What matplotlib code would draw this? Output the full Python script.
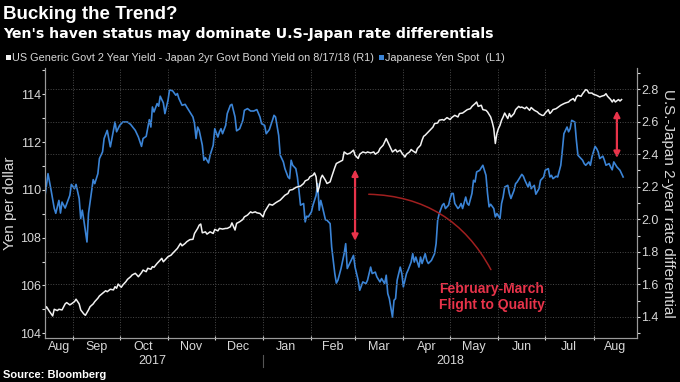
import numpy as np
import matplotlib
matplotlib.use("Agg")
import matplotlib.pyplot as plt
import matplotlib.dates as mdates
from matplotlib import font_manager
from matplotlib.ticker import MultipleLocator, FixedLocator, NullFormatter

# --- data, days counted from 2017-08-14 ---
start = np.datetime64("2017-08-14")

yen_days = [0, 2, 4, 6, 7, 9, 10, 11, 13, 16, 17, 19, 20, 22, 23, 24, 25, 27, 28, 30,
            31, 32, 34, 35, 37, 38, 40, 41, 42, 44, 45, 46, 48, 50, 53, 55, 58, 60, 62, 63,
            65, 67, 68, 69, 70, 72, 73, 74, 76, 77, 79, 80, 82, 84, 85, 86, 88, 90, 91, 93,
            95, 96, 97, 98, 99, 101, 102, 103, 105, 106, 108, 109, 111, 112, 113, 114, 116, 117, 119, 120,
            122, 123, 125, 127, 128, 130, 132, 134, 136, 138, 139, 141, 142, 144, 146, 147, 148, 150, 151, 153,
            154, 156, 157, 158, 159, 161, 162, 163, 164, 166, 167, 168, 169, 171, 172, 174, 175, 176, 177, 178,
            180, 181, 183, 184, 186, 187, 188, 190, 192, 193, 194, 196, 198, 199, 201, 202, 204, 206, 207, 209,
            210, 212, 213, 215, 216, 218, 219, 220, 221, 223, 224, 225, 226, 228, 229, 230, 232, 233, 235, 236,
            237, 238, 240, 241, 242, 244, 245, 246, 248, 250, 251, 252, 253, 255, 256, 257, 259, 260, 261, 262,
            263, 265, 266, 267, 268, 270, 271, 272, 274, 275, 276, 277, 279, 280, 281, 283, 284, 285, 286, 288,
            289, 290, 292, 293, 294, 295, 297, 298, 299, 301, 302, 303, 305, 306, 307, 308, 310, 311, 312, 314,
            315, 317, 318, 320, 321, 323, 324, 325, 326, 328, 329, 331, 332, 333, 335, 336, 337, 338, 340, 341,
            342, 344, 345, 346, 347, 349, 350, 351, 353, 354, 355, 356, 358, 359, 360, 362, 363, 364, 365, 367,
            368, 369, 371]
yen = [109.70, 110.68, 109.98, 109.23, 109.02, 109.56, 109.03, 109.49, 109.24, 109.77,
       110.23, 110.05, 110.23, 109.64, 108.80, 109.15, 108.73, 107.82, 109.02, 109.98,
       110.43, 110.26, 110.68, 111.31, 111.59, 112.15, 112.49, 112.15, 111.80, 112.49,
       112.84, 112.43, 112.70, 112.84, 112.84, 112.74, 112.49, 112.21, 111.82, 112.15,
       112.24, 112.94, 112.63, 113.47, 113.26, 113.61, 113.50, 113.92, 113.64, 113.19,
       113.75, 114.19, 114.14, 113.96, 114.03, 113.82, 113.54, 113.58, 113.47, 113.26,
       113.05, 112.77, 112.15, 112.63, 112.49, 111.87, 111.24, 111.35, 111.13, 111.45,
       111.87, 112.56, 112.21, 112.43, 112.56, 112.35, 112.70, 113.19, 113.54, 113.58,
       113.05, 112.47, 112.56, 112.91, 113.33, 113.40, 113.30, 113.30, 113.36, 113.05,
       112.77, 112.70, 112.35, 112.52, 112.91, 113.12, 113.05, 112.28, 111.45, 111.17,
       110.89, 110.54, 110.47, 111.24, 111.03, 110.89, 110.54, 109.98, 109.36, 109.43,
       108.66, 108.90, 108.87, 109.08, 109.36, 109.77, 110.26, 109.15, 109.56, 109.31,
       108.75, 108.73, 108.59, 107.61, 106.50, 106.10, 106.22, 106.71, 107.33, 107.75,
       106.71, 106.98, 107.26, 106.77, 106.22, 105.80, 106.15, 106.08, 106.22, 106.77,
       106.50, 106.56, 106.36, 106.15, 106.29, 106.08, 106.43, 105.66, 105.45, 104.68,
       105.38, 105.45, 106.22, 106.77, 106.50, 105.94, 106.50, 106.64, 106.98, 107.33,
       106.98, 107.19, 106.77, 107.19, 106.92, 107.33, 107.05, 106.92, 107.05, 107.33,
       107.75, 108.73, 109.01, 109.36, 109.43, 109.22, 109.36, 109.64, 109.85, 109.85,
       109.43, 109.22, 109.29, 109.43, 109.22, 109.70, 109.43, 109.36, 109.85, 110.40,
       110.33, 110.75, 110.82, 110.93, 111.03, 110.61, 109.85, 109.29, 109.40, 109.22,
       108.87, 109.01, 108.80, 109.43, 109.70, 110.12, 110.19, 109.85, 109.64, 109.98,
       110.26, 110.33, 110.54, 110.65, 110.57, 110.40, 110.12, 110.33, 110.05, 110.19,
       109.82, 110.05, 110.40, 110.54, 110.82, 110.89, 110.54, 110.61, 110.47, 110.57,
       110.54, 111.03, 111.66, 112.35, 112.63, 112.43, 112.56, 112.91, 112.84, 112.08,
       111.45, 111.31, 111.24, 111.10, 111.03, 111.17, 111.03, 111.38, 111.82, 111.73,
       111.59, 111.31, 111.41, 111.24, 111.03, 111.10, 110.96, 110.84, 111.17, 110.96,
       110.89, 110.82, 110.54]

spread_days = [0, 1, 3, 5, 6, 8, 9, 11, 13, 14, 16, 17, 19, 20, 22, 23, 25, 26, 28, 29,
               31, 32, 34, 35, 37, 39, 40, 42, 44, 45, 46, 47, 49, 50, 52, 53, 55, 56, 58, 59,
               60, 62, 63, 65, 66, 68, 69, 70, 72, 73, 75, 76, 78, 79, 81, 82, 84, 85, 87, 88,
               90, 91, 93, 95, 96, 98, 99, 100, 101, 103, 104, 106, 108, 109, 111, 112, 114, 116, 117, 119,
               120, 122, 123, 125, 127, 128, 130, 132, 133, 135, 136, 138, 140, 141, 143, 144, 146, 148, 149, 151,
               153, 154, 156, 157, 159, 161, 162, 164, 166, 167, 169, 170, 172, 173, 174, 175, 176, 177, 178, 180,
               181, 183, 184, 186, 187, 189, 191, 192, 194, 196, 198, 199, 201, 202, 204, 206, 207, 209, 211, 212,
               214, 215, 217, 219, 221, 222, 223, 225, 226, 228, 229, 231, 232, 234, 235, 236, 238, 239, 241, 242,
               243, 244, 246, 247, 249, 250, 252, 253, 255, 256, 258, 260, 261, 263, 265, 266, 268, 269, 271, 273,
               274, 276, 277, 278, 280, 281, 283, 284, 286, 287, 288, 289, 290, 291, 292, 293, 294, 295, 297, 298,
               299, 301, 302, 304, 305, 306, 308, 309, 311, 312, 314, 316, 317, 319, 320, 321, 323, 324, 325, 326,
               328, 329, 331, 333, 334, 336, 337, 339, 340, 341, 342, 344, 345, 347, 348, 349, 351, 352, 354, 356,
               357, 359, 360, 361, 363, 364, 365, 366, 368, 369, 370]
spread = [1.443, 1.463, 1.433, 1.406, 1.447, 1.439, 1.447, 1.443, 1.480, 1.488,
          1.474, 1.480, 1.494, 1.509, 1.480, 1.443, 1.418, 1.410, 1.443, 1.463,
          1.480, 1.494, 1.515, 1.529, 1.545, 1.561, 1.555, 1.570, 1.566, 1.586,
          1.576, 1.602, 1.582, 1.596, 1.617, 1.631, 1.647, 1.658, 1.668, 1.658,
          1.647, 1.672, 1.688, 1.678, 1.699, 1.693, 1.709, 1.705, 1.729, 1.739,
          1.760, 1.739, 1.760, 1.770, 1.780, 1.791, 1.811, 1.821, 1.852, 1.837,
          1.852, 1.862, 1.875, 1.877, 1.913, 1.944, 1.964, 1.971, 1.917, 1.923,
          1.909, 1.923, 1.913, 1.938, 1.929, 1.944, 1.940, 1.944, 1.944, 1.954,
          1.978, 1.934, 1.975, 1.985, 1.999, 2.015, 2.026, 2.046, 2.040, 2.046,
          2.040, 2.036, 2.015, 2.046, 2.077, 2.093, 2.087, 2.101, 2.107, 2.118,
          2.138, 2.148, 2.159, 2.179, 2.183, 2.196, 2.199, 2.204, 2.220, 2.236,
          2.245, 2.261, 2.271, 2.285, 2.261, 2.169, 2.199, 2.251, 2.271, 2.240,
          2.220, 2.230, 2.261, 2.318, 2.343, 2.353, 2.363, 2.414, 2.400, 2.408,
          2.425, 2.394, 2.374, 2.400, 2.414, 2.408, 2.414, 2.408, 2.414, 2.400,
          2.414, 2.435, 2.455, 2.496, 2.455, 2.435, 2.414, 2.429, 2.414, 2.425,
          2.408, 2.383, 2.400, 2.414, 2.429, 2.421, 2.408, 2.435, 2.455, 2.486,
          2.510, 2.517, 2.537, 2.547, 2.567, 2.588, 2.592, 2.609, 2.613, 2.609,
          2.625, 2.613, 2.625, 2.639, 2.629, 2.650, 2.653, 2.660, 2.674, 2.680,
          2.694, 2.711, 2.721, 2.694, 2.701, 2.674, 2.670, 2.660, 2.629, 2.598,
          2.558, 2.466, 2.527, 2.558, 2.578, 2.609, 2.629, 2.653, 2.619, 2.650,
          2.629, 2.650, 2.674, 2.694, 2.687, 2.690, 2.680, 2.690, 2.670, 2.687,
          2.670, 2.660, 2.650, 2.639, 2.639, 2.653, 2.674, 2.650, 2.660, 2.674,
          2.680, 2.687, 2.701, 2.711, 2.715, 2.721, 2.731, 2.742, 2.727, 2.752,
          2.762, 2.756, 2.772, 2.797, 2.793, 2.776, 2.776, 2.768, 2.762, 2.752,
          2.756, 2.762, 2.772, 2.756, 2.736, 2.721, 2.736, 2.721, 2.736, 2.727,
          2.736]

title = "Bucking the Trend?"
subtitle = "Yen's haven status may dominate U.S-Japan rate differentials"
spread_label = "US Generic Govt 2 Year Yield - Japan 2yr Govt Bond Yield on 8/17/18 (R1)"
yen_label = "Japanese Yen Spot  (L1)"
note = "February-March\nFlight to Quality"

# fonts: prefer a narrow face for the Bloomberg look
installed = {f.name for f in font_manager.fontManager.ttflist}
narrow = "Liberation Sans Narrow" if "Liberation Sans Narrow" in installed else "Liberation Sans"
bold = "Liberation Sans"

BG = "black"
BLUE = "#3b84d6"
WHITE = "#f2f2f2"
RED = "#e8334a"
DARKRED = "#a01f1f"
GRID = "#4a4a4a"
TXT = "#d8d8d8"

plt.rcParams["font.family"] = [narrow, "DejaVu Sans"]

fig = plt.figure(figsize=(6.8, 3.82), dpi=100, facecolor=BG)
ax = fig.add_axes([0.066, 0.115, 0.871, 0.707], facecolor=BG)
ax2 = ax.twinx()

x_yen = start + np.array(yen_days).astype("timedelta64[D]")
x_spread = start + np.array(spread_days).astype("timedelta64[D]")

ax.plot(x_yen, yen, color=BLUE, lw=1.2)
ax2.plot(x_spread, spread, color=WHITE, lw=1.1)

xmin = start
xmax = np.datetime64("2018-08-29")

# y axes
ax.yaxis.set_major_locator(MultipleLocator(2))
ax.yaxis.set_minor_locator(MultipleLocator(1))
ax2.yaxis.set_major_locator(MultipleLocator(0.2))
ax2.yaxis.set_minor_locator(MultipleLocator(0.1))
ax2.yaxis.set_major_formatter(matplotlib.ticker.FormatStrFormatter("%.1f"))
for a in (ax, ax2):
    a.tick_params(axis="y", which="both", colors=TXT, labelsize=9, length=2, width=0.8, pad=1)
ax.set_ylabel("Yen per dollar", color=TXT, fontsize=11, labelpad=2)
ax2.set_ylabel("U.S.-Japan 2-year rate differential", color=TXT, fontsize=11,
               rotation=270, labelpad=12)

# x axis: month boundaries as ticks, labels centred in each month
month_starts = np.arange(np.datetime64("2017-09"), np.datetime64("2018-09"),
                         dtype="datetime64[M]").astype("datetime64[D]")
ax.xaxis.set_major_locator(FixedLocator(mdates.date2num(month_starts)))
ax.xaxis.set_major_formatter(NullFormatter())
edges = np.concatenate([[xmin], month_starts[month_starts < xmax], [xmax]])
centers = edges[:-1] + (edges[1:] - edges[:-1]) / 2
ax.xaxis.set_minor_locator(FixedLocator(mdates.date2num(centers)))
ax.xaxis.set_minor_formatter(mdates.DateFormatter("%b"))
ax.tick_params(axis="x", which="major", colors=TXT, length=3, width=0.8, direction="inout")
ax.tick_params(axis="x", which="minor", colors=TXT, length=0, labelsize=9, pad=2)

trans = matplotlib.transforms.blended_transform_factory(ax.transData, ax.transAxes)
ax.text(np.datetime64("2017-10-22"), -0.085, "2017", transform=trans, ha="center",
        va="center", color=TXT, fontsize=9)
ax.text(np.datetime64("2018-05-01"), -0.085, "2018", transform=trans, ha="center",
        va="center", color=TXT, fontsize=9)
ax.plot([np.datetime64("2018-01-01")] * 2, [-0.063, -0.107], transform=trans,
        color="#555555", lw=0.8, clip_on=False)

# grid: vertical at month starts, horizontal at right axis ticks
ax.grid(True, axis="x", which="major", color=GRID, ls=":", lw=0.7)
ax2.grid(True, axis="y", which="major", color=GRID, ls=":", lw=0.7)
ax.set_axisbelow(True)

for a in (ax, ax2):
    a.spines["top"].set_visible(False)
    for s in ("left", "right", "bottom"):
        a.spines[s].set_color("#9a9a9a")
        a.spines[s].set_linewidth(0.8)

# annotations
ax.annotate("", xy=(np.datetime64("2018-03-01"), 107.75), xytext=(np.datetime64("2018-03-01"), 110.97),
            arrowprops=dict(arrowstyle="<|-|>", color=RED, lw=1.6, mutation_scale=9))
ax.annotate("", xy=(np.datetime64("2018-08-16"), 111.22), xytext=(np.datetime64("2018-08-16"), 113.43),
            arrowprops=dict(arrowstyle="<|-|>", color=RED, lw=1.6, mutation_scale=9))
ax.annotate("", xy=(np.datetime64("2018-05-28"), 106.56), xytext=(np.datetime64("2018-03-08"), 109.82),
            arrowprops=dict(arrowstyle="-", color=DARKRED, lw=1.1,
                            connectionstyle="arc3,rad=-0.3"))
ax.text(np.datetime64("2018-04-24"), 106.15, note, color=RED, fontsize=10, fontweight="bold",
        family=bold, ha="left", va="top", linespacing=1.15)

ax.set_xlim(xmin, xmax)
ax.set_ylim(103.8, 115.1)
ax2.set_ylim(1.27, 2.93)

# titles, legend row and source
fig.text(0.005, 0.962, title, color="white", fontsize=13.5, fontweight="bold",
         family=narrow, ha="left", va="center")
fig.text(0.005, 0.911, subtitle, color="white", fontsize=10.2, fontweight="bold",
         family="DejaVu Sans", ha="left", va="center")
fig.patches.append(plt.Rectangle((0.009, 0.842), 0.0075, 0.014, transform=fig.transFigure,
                                 facecolor=WHITE, edgecolor="none"))
fig.text(0.018, 0.849, spread_label, color=TXT, fontsize=7.85, ha="left", va="center")
fig.patches.append(plt.Rectangle((0.557, 0.842), 0.0075, 0.014, transform=fig.transFigure,
                                 facecolor=BLUE, edgecolor="none"))
fig.text(0.566, 0.849, yen_label, color=TXT, fontsize=7.85, ha="left", va="center")
fig.text(0.005, 0.018, "Source: Bloomberg", color="white", fontsize=8, fontweight="bold",
         family=bold, ha="left", va="center")

fig.savefig("out.png", dpi=100, facecolor=BG)
